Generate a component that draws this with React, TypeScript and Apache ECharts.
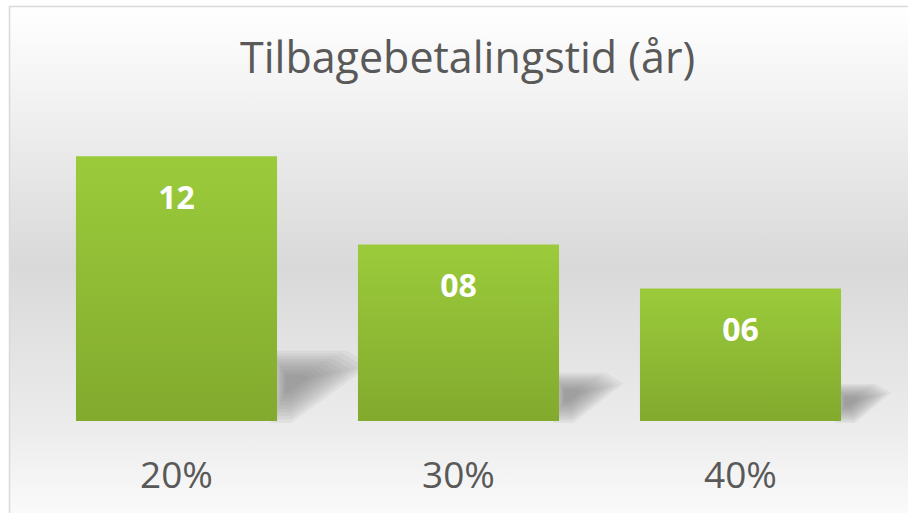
import React, { useEffect, useRef } from "react";
import * as echarts from "echarts";

const categories = ["20%", "30%", "40%"];
const values = [12, 8, 6];
const titleText = "Tilbagebetalingstid (år)";

export default function App() {
  const ref = useRef<HTMLDivElement>(null);
  useEffect(() => {
    document.body.style.margin = "0";
    const chart = echarts.init(ref.current!, undefined, { renderer: "svg" });
    const font = "'Open Sans', sans-serif";
    chart.setOption({
      animation: false,
      backgroundColor: "#ffffff",
      title: {
        text: titleText,
        left: 235,
        top: 30,
        textStyle: { fontFamily: font, fontSize: 43, fontWeight: "normal", color: "#595959" },
      },
      graphic: [
        {
          type: "rect",
          z: -100,
          silent: true,
          shape: { x: 9.5, y: 6.5, width: 940, height: 540 },
          style: {
            fill: new echarts.graphic.LinearGradient(0, 0, 0, 1, [
              { offset: 0, color: "#ffffff" },
              { offset: 0.12, color: "#f6f6f6" },
              { offset: 0.48, color: "#d9d9d9" },
              { offset: 0.78, color: "#ececec" },
              { offset: 0.95, color: "#fbfbfb" },
              { offset: 1, color: "#ffffff" },
            ]),
            stroke: "#d9d9d9",
            lineWidth: 1.5,
          },
        },
      ],
      grid: { left: 35.5, right: 26.5, top: 112, bottom: 92, containLabel: false },
      xAxis: {
        type: "category",
        data: categories,
        axisLine: { show: false },
        axisTick: { show: false },
        axisLabel: { fontFamily: font, fontSize: 37, color: "#595959", margin: 34 },
      },
      yAxis: { type: "value", min: 0, max: 14, show: false, splitLine: { show: false } },
      series: [
        {
          type: "custom",
          z: 1,
          silent: true,
          data: values.map((v, i) => [i, v]),
          renderItem: (params: any, api: any) => {
            const idx = api.value(0);
            const v = api.value(1);
            const top = api.coord([idx, v]);
            const bottom = api.coord([idx, 0]);
            const band = api.size([1, 0])[0];
            const bw = band * 0.713;
            const R = bottom[0] + bw / 2;
            const h = bottom[1] - top[1];
            const sh = h * 0.25;
            const sl = h * 0.33;
            const b = bottom[1];
            const outer = [
              [R - 6, b - sh - 4],
              [R + sl * 0.8, b - sh - 4],
              [R + sl + 6, b - sh * 0.85],
              [R + 14, b + 2],
              [R - 6, b + 2],
            ];
            const cx = R + sl * 0.15;
            const cy = b - sh * 0.6;
            const layers = 10;
            const children = [] as any[];
            for (let i = 0; i < layers; i++) {
              const f = 1 - (i / layers) * 0.85;
              children.push({
                type: "polygon",
                shape: {
                  points: outer.map(([x, y]) => [cx + (x - cx) * f, cy + (y - cy) * f]),
                },
                style: { fill: "rgba(115,115,115,0.085)" },
              });
            }
            return { type: "group", children };
          },
        },
        {
          type: "bar",
          z: 2,
          data: values,
          barCategoryGap: "28.7%",
          itemStyle: {
            color: new echarts.graphic.LinearGradient(0, 0, 0, 1, [
              { offset: 0, color: "#9bcb3b" },
              { offset: 1, color: "#82aa2e" },
            ]),
          },
          label: {
            show: true,
            position: "insideTop",
            distance: 24,
            fontFamily: font,
            fontSize: 32,
            fontWeight: "bold",
            color: "#ffffff",
            formatter: (p: any) => String(p.value).padStart(2, "0"),
          },
        },
      ],
    });
    return () => chart.dispose();
  }, []);
  return <div ref={ref} style={{ position: "absolute", left: 0, top: 0, width: 908, height: 513 }} />;
}
